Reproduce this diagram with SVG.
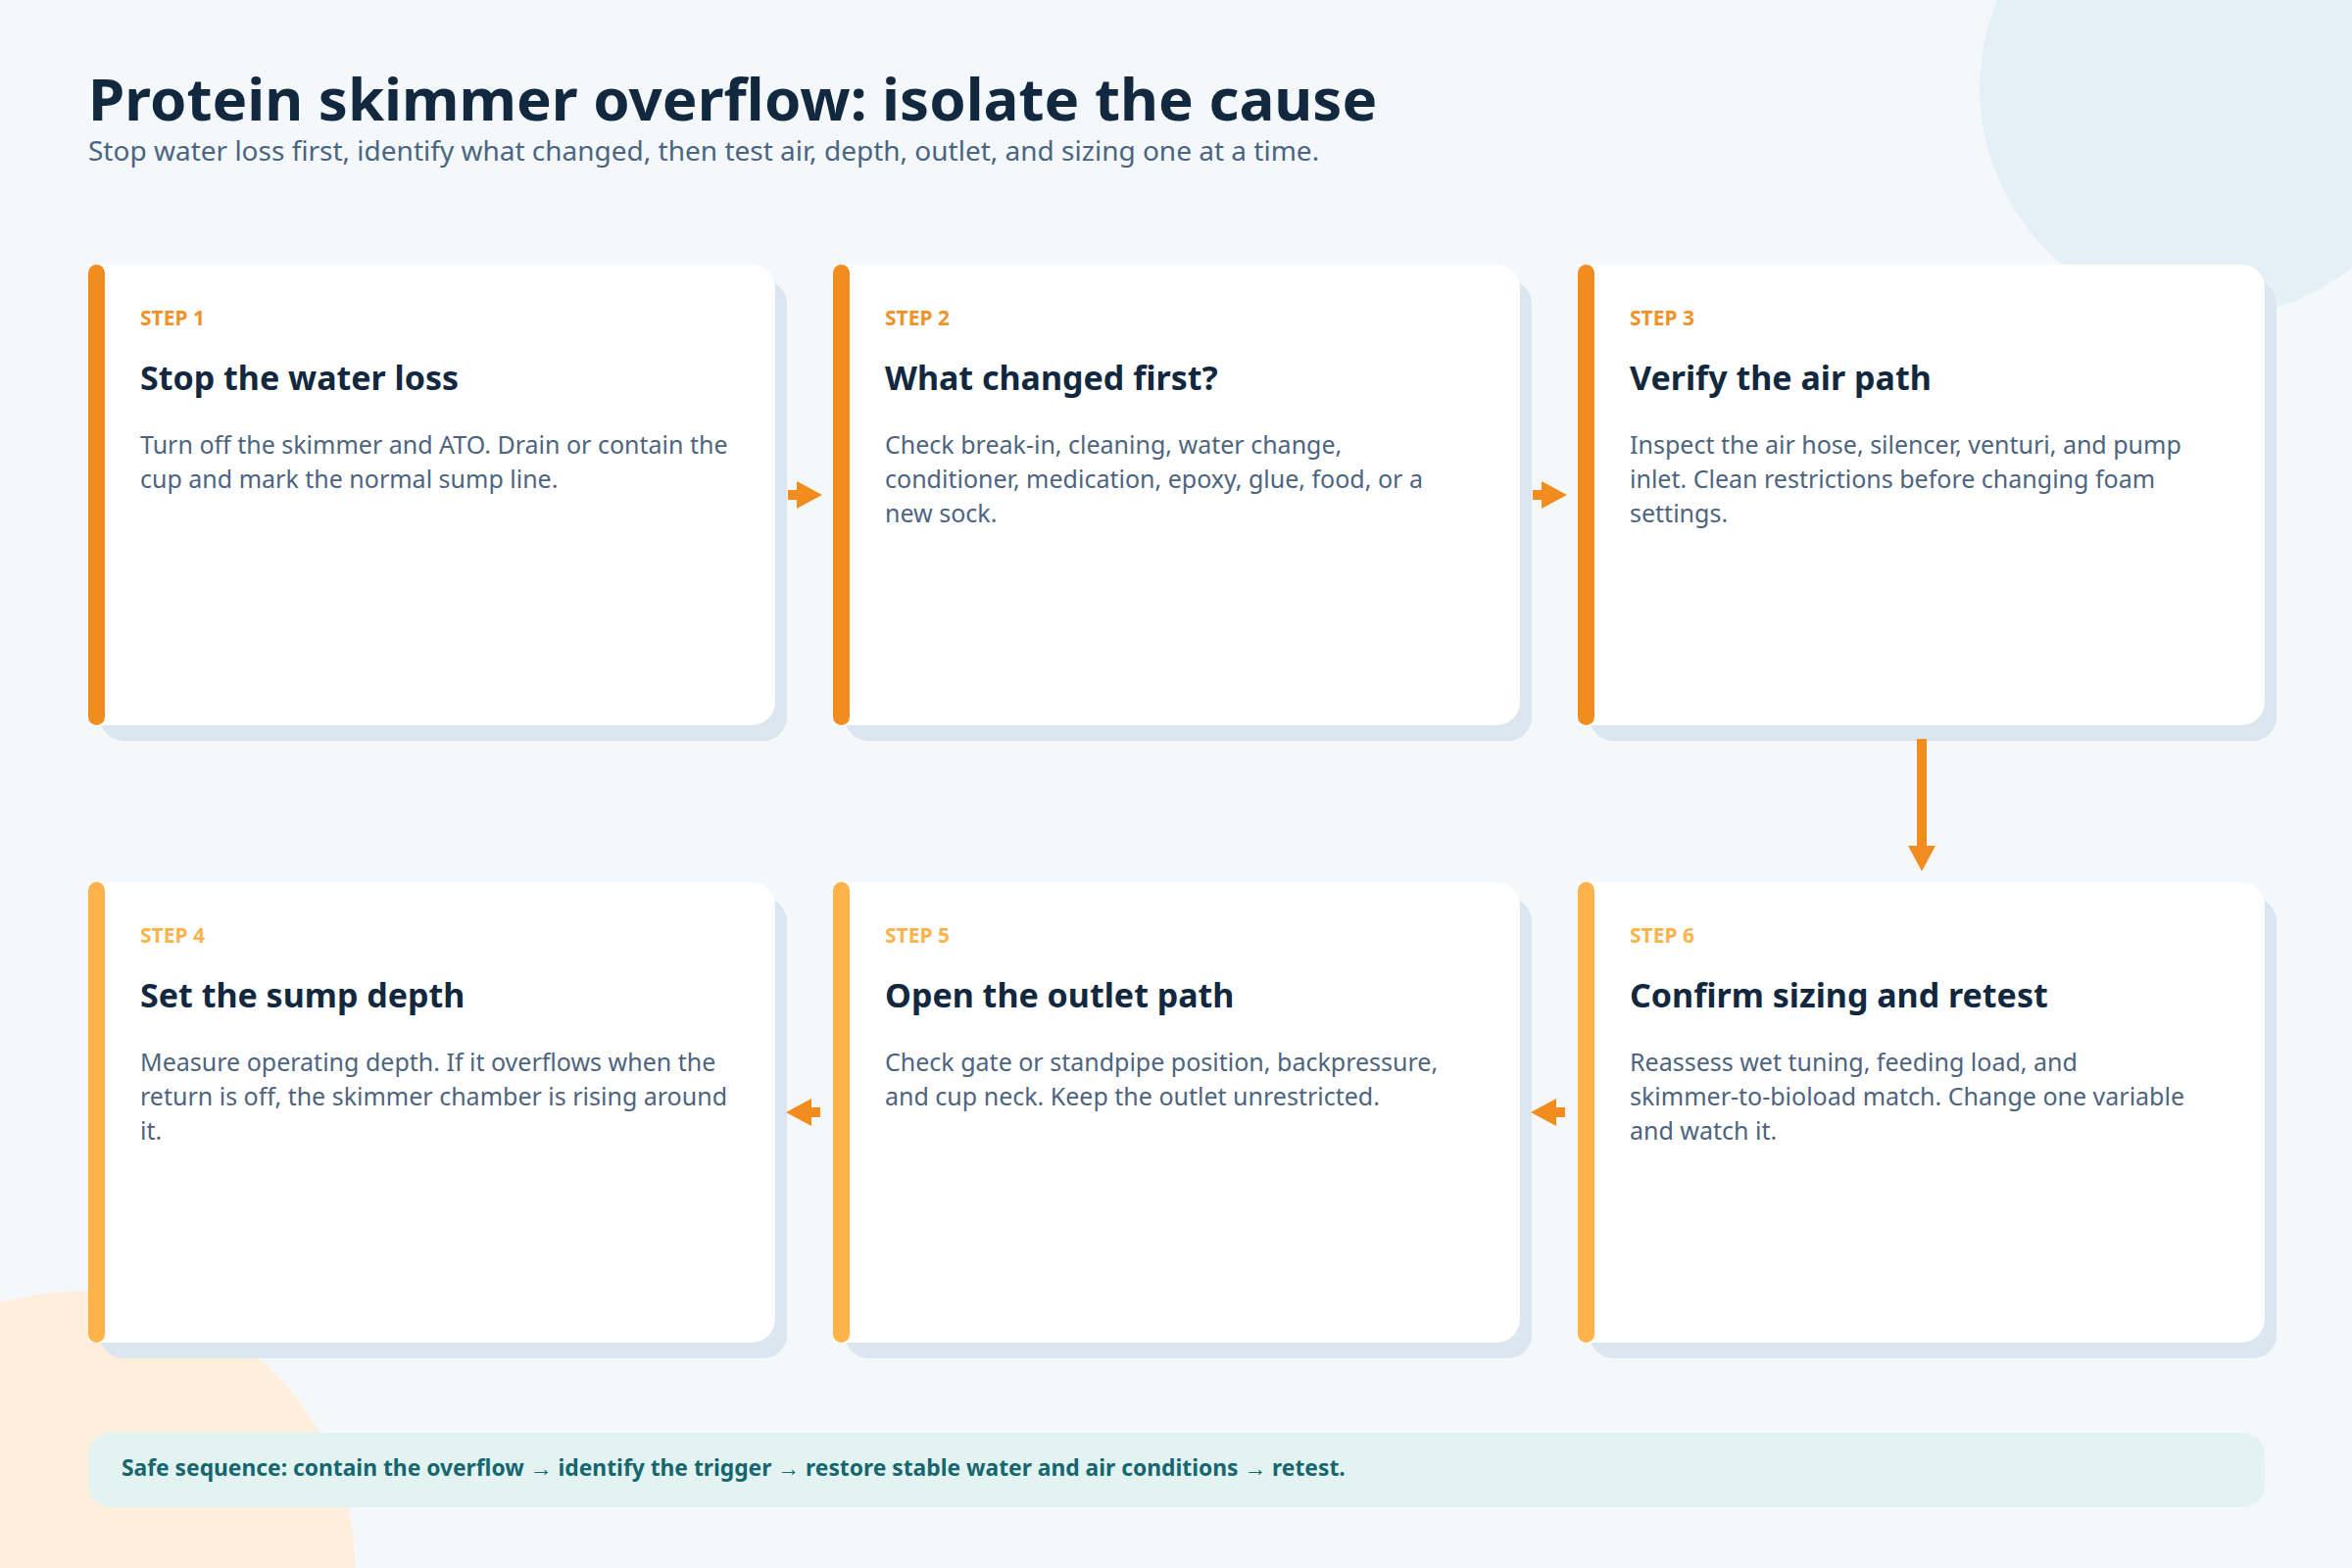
<svg xmlns="http://www.w3.org/2000/svg" width="2400" height="1600" viewBox="0 0 2400 1600">
  <style>
    .t { font-family: "Noto Sans", "Open Sans", sans-serif; }
    .h1 { font-size: 60px; font-weight: 700; fill: #12283F; }
    .sub { font-size: 28px; fill: #4A6582; }
    .step1 { font-size: 21px; font-weight: 700; fill: #F0922A; }
    .step2 { font-size: 21px; font-weight: 700; fill: #FBB44C; }
    .ct { font-size: 34px; font-weight: 700; fill: #12283F; }
    .body { font-size: 25px; fill: #4D6480; }
    .foot { font-size: 22.8px; font-weight: 700; fill: #15666E; }
    .card { fill: #FFFFFF; }
    .shadow { fill: #DCE6EE; }
    .bar1 { fill: #F28C1E; }
    .bar2 { fill: #FDB34A; }
    .arr { stroke: #F28C1E; stroke-width: 10; fill: none; }
    .head { fill: #F28C1E; }
  </style>
  <defs>
    <path id="cardShape" d="M0,0 H677 A24,24 0 0 1 701,24 V446 A24,24 0 0 1 677,470 H0 Z"/>
  </defs>
  <rect x="0" y="0" width="2400" height="1600" fill="#F4F8FB"/>
  <circle cx="2254" cy="90" r="234" fill="#E3F1F7"/>
  <circle cx="80" cy="1600" r="282" fill="#FEEFDC"/>

  <text class="t h1" x="90" y="123">Protein skimmer overflow: isolate the cause</text>
  <text class="t sub" x="90" y="164">Stop water loss first, identify what changed, then test air, depth, outlet, and sizing one at a time.</text>

  <g id="step1" transform="translate(90,270)">
    <rect class="shadow" x="12" y="16" width="701" height="470" rx="24"/>
    <use href="#cardShape" class="card"/>
    <rect class="bar1" x="0" y="0" width="17" height="470" rx="8.5"/>
    <text class="t step1" x="53" y="62">STEP 1</text>
    <text class="t ct" x="53" y="128">Stop the water loss</text>
    <text class="t body" x="53" y="193">Turn off the skimmer and ATO. Drain or contain the</text>
    <text class="t body" x="53" y="228">cup and mark the normal sump line.</text>
  </g>

  <g id="step2" transform="translate(850,270)">
    <rect class="shadow" x="12" y="16" width="701" height="470" rx="24"/>
    <use href="#cardShape" class="card"/>
    <rect class="bar1" x="0" y="0" width="17" height="470" rx="8.5"/>
    <text class="t step1" x="53" y="62">STEP 2</text>
    <text class="t ct" x="53" y="128">What changed first?</text>
    <text class="t body" x="53" y="193">Check break-in, cleaning, water change,</text>
    <text class="t body" x="53" y="228">conditioner, medication, epoxy, glue, food, or a</text>
    <text class="t body" x="53" y="263">new sock.</text>
  </g>

  <g id="step3" transform="translate(1610,270)">
    <rect class="shadow" x="12" y="16" width="701" height="470" rx="24"/>
    <use href="#cardShape" class="card"/>
    <rect class="bar1" x="0" y="0" width="17" height="470" rx="8.5"/>
    <text class="t step1" x="53" y="62">STEP 3</text>
    <text class="t ct" x="53" y="128">Verify the air path</text>
    <text class="t body" x="53" y="193">Inspect the air hose, silencer, venturi, and pump</text>
    <text class="t body" x="53" y="228">inlet. Clean restrictions before changing foam</text>
    <text class="t body" x="53" y="263">settings.</text>
  </g>

  <g id="step4" transform="translate(90,900)">
    <rect class="shadow" x="12" y="16" width="701" height="470" rx="24"/>
    <use href="#cardShape" class="card"/>
    <rect class="bar2" x="0" y="0" width="17" height="470" rx="8.5"/>
    <text class="t step2" x="53" y="62">STEP 4</text>
    <text class="t ct" x="53" y="128">Set the sump depth</text>
    <text class="t body" x="53" y="193">Measure operating depth. If it overflows when the</text>
    <text class="t body" x="53" y="228">return is off, the skimmer chamber is rising around</text>
    <text class="t body" x="53" y="263">it.</text>
  </g>

  <g id="step5" transform="translate(850,900)">
    <rect class="shadow" x="12" y="16" width="701" height="470" rx="24"/>
    <use href="#cardShape" class="card"/>
    <rect class="bar2" x="0" y="0" width="17" height="470" rx="8.5"/>
    <text class="t step2" x="53" y="62">STEP 5</text>
    <text class="t ct" x="53" y="128">Open the outlet path</text>
    <text class="t body" x="53" y="193">Check gate or standpipe position, backpressure,</text>
    <text class="t body" x="53" y="228">and cup neck. Keep the outlet unrestricted.</text>
  </g>

  <g id="step6" transform="translate(1610,900)">
    <rect class="shadow" x="12" y="16" width="701" height="470" rx="24"/>
    <use href="#cardShape" class="card"/>
    <rect class="bar2" x="0" y="0" width="17" height="470" rx="8.5"/>
    <text class="t step2" x="53" y="62">STEP 6</text>
    <text class="t ct" x="53" y="128">Confirm sizing and retest</text>
    <text class="t body" x="53" y="193">Reassess wet tuning, feeding load, and</text>
    <text class="t body" x="53" y="228">skimmer-to-bioload match. Change one variable</text>
    <text class="t body" x="53" y="263">and watch it.</text>
  </g>

  <g id="connectors">
    <line class="arr" x1="804" y1="505" x2="830" y2="505"/>
    <polygon class="head" points="813,491 839,505 813,519"/>
    <line class="arr" x1="1564" y1="505" x2="1590" y2="505"/>
    <polygon class="head" points="1573,491 1599,505 1573,519"/>
    <line class="arr" x1="1961" y1="754" x2="1961" y2="880"/>
    <polygon class="head" points="1947,863 1961,889 1975,863"/>
    <line class="arr" x1="1597" y1="1135" x2="1571" y2="1135"/>
    <polygon class="head" points="1588,1121 1562,1135 1588,1149"/>
    <line class="arr" x1="837" y1="1135" x2="811" y2="1135"/>
    <polygon class="head" points="828,1121 802,1135 828,1149"/>
  </g>

  <g id="footer">
    <rect x="90" y="1462" width="2221" height="76" rx="22" fill="#E2F3F2"/>
    <text class="t foot" x="124" y="1506">Safe sequence: contain the overflow → identify the trigger → restore stable water and air conditions → retest.</text>
  </g>
</svg>
